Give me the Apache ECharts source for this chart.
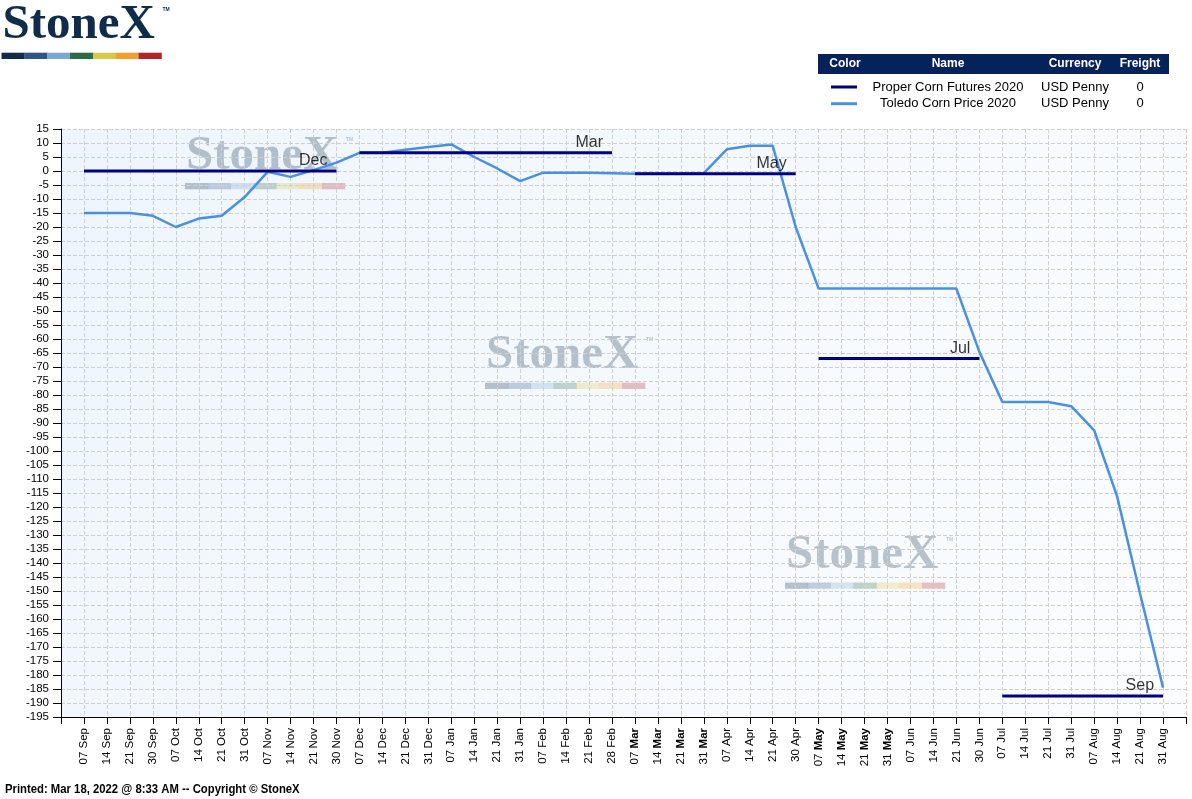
<!DOCTYPE html>
<html>
<head>
<meta charset="utf-8">
<title>Toledo Corn Basis</title>
<script src="https://cdn.jsdelivr.net/npm/echarts@6/dist/echarts.min.js"></script>
<style>
  html, body { margin: 0; padding: 0; background: #fff; }
  #chart { width: 1192px; height: 799px; }
</style>
</head>
<body>
<div id="chart"></div>
<script>
"use strict";

// x categories (weekly dates, Sep 2019 .. Aug 2020)
const dates = [
  "07 Sep", "14 Sep", "21 Sep", "30 Sep", "07 Oct", "14 Oct", "21 Oct", "31 Oct",
  "07 Nov", "14 Nov", "21 Nov", "30 Nov", "07 Dec", "14 Dec", "21 Dec", "31 Dec",
  "07 Jan", "14 Jan", "21 Jan", "31 Jan", "07 Feb", "14 Feb", "21 Feb", "28 Feb",
  "07 Mar", "14 Mar", "21 Mar", "31 Mar", "07 Apr", "14 Apr", "21 Apr", "30 Apr",
  "07 May", "14 May", "21 May", "31 May", "07 Jun", "14 Jun", "21 Jun", "30 Jun",
  "07 Jul", "14 Jul", "21 Jul", "31 Jul", "07 Aug", "14 Aug", "21 Aug", "31 Aug",
];

// Toledo Corn Price 2020 (USD penny)
const toledo = [
  -15, -15, -15, -16, -20, -17, -16, -9.3,
  -0.3, -2.1, 0.3, 3, 6.5, 6.5, 7.6, 8.6,
  9.5, 5, 0.9, -3.6, -0.6, -0.6, -0.6, -0.8,
  -1, -1, -1, -0.8, 7.75, 9, 9, -20,
  -42, -42, -42, -42, -42, -42, -42, -64.6,
  -82.5, -82.5, -82.5, -84, -92.6, -116.2, -151, -184.5,
];

// Proper Corn Futures 2020: contract month in force per date, and its value
const contracts = [
  "Dec", "Dec", "Dec", "Dec", "Dec", "Dec", "Dec", "Dec",
  "Dec", "Dec", "Dec", "Dec", "Mar", "Mar", "Mar", "Mar",
  "Mar", "Mar", "Mar", "Mar", "Mar", "Mar", "Mar", "Mar",
  "May", "May", "May", "May", "May", "May", "May", "May",
  "Jul", "Jul", "Jul", "Jul", "Jul", "Jul", "Jul", "Jul",
  "Sep", "Sep", "Sep", "Sep", "Sep", "Sep", "Sep", "Sep",
];
const futures = [
  0, 0, 0, 0, 0, 0, 0, 0,
  0, 0, 0, 0, 6.5, 6.5, 6.5, 6.5,
  6.5, 6.5, 6.5, 6.5, 6.5, 6.5, 6.5, 6.5,
  -1, -1, -1, -1, -1, -1, -1, -1,
  -67, -67, -67, -67, -67, -67, -67, -67,
  -187.5, -187.5, -187.5, -187.5, -187.5, -187.5, -187.5, -187.5,
];

const yTicks = { min: -195, max: 15, step: 5 };

const legendRows = [
  { name: "Proper Corn Futures 2020", currency: "USD Penny", freight: "0", color: "#000080" },
  { name: "Toledo Corn Price 2020", currency: "USD Penny", freight: "0", color: "#4a90e2" },
];

const footerText = "Printed: Mar 18, 2022 @ 8:33 AM -- Copyright \u00A9 StoneX";

const logoColors = ["#0f2c4a", "#2e5687", "#78a9d1", "#2a6b48", "#d8c84a", "#f0a02c", "#b0242a"];

//
// helpers
//

const FONT = "'Liberation Sans', Arial, sans-serif";
const SERIF = "'Liberation Serif', 'Times New Roman', serif";

// StoneX logo: wordmark + coloured bar; gx/gy = top-left of the bar
function logo(gx, gy, opacity) {
  const children = [
    {
      type: "text",
      style: {
        text: "StoneX", x: gx + 1, y: gy - 27,
        font: "bold 49px " + SERIF, fill: "#0f2d4a", verticalAlign: "middle",
      },
    },
    {
      type: "text",
      style: {
        text: "TM", x: gx + 161, y: gy - 43,
        font: "bold 5px " + FONT, fill: "#0f2d4a", verticalAlign: "middle",
      },
    },
  ];
  const segW = 160 / logoColors.length;
  logoColors.forEach((c, i) => {
    children.push({
      type: "rect",
      shape: { x: gx + i * segW, y: gy, width: segW + 0.3, height: 6.3 },
      style: { fill: c },
    });
  });
  children.forEach(ch => { ch.style.opacity = opacity; });
  return { type: "group", z: 1, silent: true, children: children };
}

function legendTable() {
  const cols = [845, 948, 1075, 1140];
  const header = ["Color", "Name", "Currency", "Freight"];
  const els = [
    { type: "rect", shape: { x: 818, y: 54, width: 351, height: 20 }, style: { fill: "#06225a" } },
  ];
  header.forEach((h, i) => {
    els.push({
      type: "text",
      style: { text: h, x: cols[i], y: 64, font: "bold 12px " + FONT, fill: "#fff", align: "center", verticalAlign: "middle" },
    });
  });
  legendRows.forEach((r, k) => {
    const y = 87 + k * 16.7;
    els.push({ type: "line", shape: { x1: 831, y1: y, x2: 857, y2: y }, style: { stroke: r.color, lineWidth: 3 } });
    [r.name, r.currency, r.freight].forEach((t, i) => {
      els.push({
        type: "text",
        style: { text: t, x: cols[i + 1], y: y, font: "13px " + FONT, fill: "#000", align: "center", verticalAlign: "middle" },
      });
    });
  });
  return els;
}

function xLabel(v) {
  const d = dates[v];
  if (!d) return "";
  const parts = d.split(" ");
  // the printout renders Mar / May in bold
  if (parts[1] === "Mar" || parts[1] === "May") return parts[0] + " {b|" + parts[1] + "}";
  return d;
}

//
// series
//

const series = [
  {
    name: "Toledo Corn Price 2020",
    type: "line",
    data: toledo.map((v, i) => [i, v]),
    symbol: "none",
    color: "#4a90e2",
    lineStyle: { width: 2.5 },
    z: 3,
  },
];

// one line per contract month, plus the month name above its right end
const labelData = [];
let start = 0;
for (let i = 1; i <= contracts.length; i++) {
  if (i === contracts.length || contracts[i] !== contracts[start]) {
    const seg = [];
    for (let j = start; j < i; j++) seg.push([j, futures[j]]);
    series.push({
      name: "Proper Corn Futures 2020",
      type: "line",
      data: seg,
      symbol: "none",
      color: "#000080",
      lineStyle: { width: 3 },
      z: 4,
    });
    labelData.push({ name: contracts[start], value: [i - 1, futures[i - 1]] });
    start = i;
  }
}
series.push({
  type: "scatter",
  data: labelData,
  symbolSize: 0,
  silent: true,
  z: 5,
  label: {
    show: true,
    formatter: "{b}",
    position: "top",
    align: "right",
    distance: 2,
    offset: [-9, 0],
    fontSize: 16,
    fontFamily: FONT,
    color: "#000",
  },
});

//
// chart
//

const gridLine = { show: true, lineStyle: { type: [4, 2], color: "#cfcfcf" } };

const chart = echarts.init(document.getElementById("chart"));
chart.setOption({
  animation: false,
  backgroundColor: "#fff",
  grid: {
    left: 61, right: 6, top: 129, bottom: 82,
    show: true,
    borderWidth: 0,
    backgroundColor: {
      type: "linear", x: 0, y: 0, x2: 1, y2: 1,
      colorStops: [{ offset: 0, color: "#eef5fc" }, { offset: 1, color: "#fbfdff" }],
    },
  },
  xAxis: {
    type: "value",
    min: -1,
    max: dates.length,
    interval: 1,
    axisLine: { show: true, onZero: false, lineStyle: { color: "#000", width: 1 } },
    axisTick: { show: true, length: 7, lineStyle: { color: "#000" } },
    splitLine: gridLine,
    axisLabel: {
      rotate: 90,
      margin: 11,
      fontSize: 11.5,
      fontFamily: FONT,
      color: "#000",
      formatter: xLabel,
      rich: { b: { fontWeight: "bold", fontSize: 11.5, fontFamily: FONT, color: "#000" } },
    },
  },
  yAxis: {
    type: "value",
    min: yTicks.min,
    max: yTicks.max,
    interval: yTicks.step,
    axisLine: { show: true, onZero: false, lineStyle: { color: "#000", width: 1 } },
    axisTick: { show: true, length: 8, lineStyle: { color: "#000" } },
    splitLine: gridLine,
    axisLabel: { margin: 12, fontSize: 11.5, fontFamily: FONT, color: "#000" },
  },
  graphic: [
    logo(1.5, 52.7, 1),
    logo(185, 183, 0.28),
    logo(485, 382.7, 0.28),
    logo(785, 582.5, 0.28),
    ...legendTable(),
    {
      type: "text",
      x: 5,
      y: 789,
      scaleX: 0.87,
      style: { text: footerText, x: 0, y: 0, font: "bold 13px " + FONT, fill: "#000", verticalAlign: "middle" },
    },
  ],
  series: series,
});
</script>
</body>
</html>
